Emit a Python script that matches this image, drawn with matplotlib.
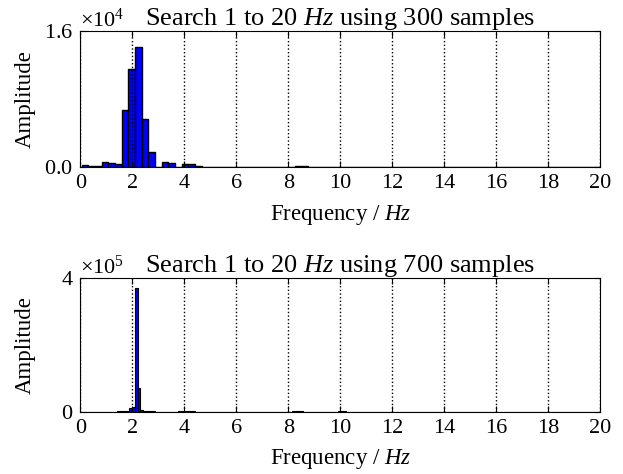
import numpy as np
import matplotlib.pyplot as plt
from matplotlib.ticker import ScalarFormatter

plt.rcParams['font.family'] = 'Liberation Serif'
plt.rcParams['mathtext.fontset'] = 'custom'
plt.rcParams['mathtext.rm'] = 'Liberation Serif'
plt.rcParams['mathtext.it'] = 'Liberation Serif:italic'

# frequency bins (left edge of first bin, bin width) and amplitudes
START_300 = 0.054
WIDTH_300 = 0.256
AMP_300 = [
    270, 200, 117, 670, 470, 350, 6690, 11540, 14090, 5670, 1830, 80, 670,
    470, 60, 350, 350, 110, 60, 50, 40, 45, 40, 30, 25, 20,
    25, 20, 20, 25, 30, 40, 100, 110, 30, 20, 20, 25, 30,
    40, 40, 25, 20, 15, 20, 15, 20, 15, 15, 20, 15, 15,
    15, 20, 15, 15, 10, 15, 15, 10, 15, 10, 15, 10, 10,
    15, 10, 10, 15, 10, 10, 15, 10, 10, 10, 15, 10, 10,
]

START_700 = 0.0
WIDTH_700 = 0.11
AMP_700 = [
    400, 300, 300, 400, 300, 400, 500, 400, 300, 400, 500, 500, 600,
    800, 1500, 2500, 3500, 10000, 15000, 372000, 70000, 5000, 3000, 2000, 1200, 800,
    600, 500, 400, 500, 400, 400, 500, 600, 700, 800, 1000, 1100, 900,
    700, 500, 400, 400, 300, 400, 400, 300, 300, 200, 300, 300, 300,
    200, 300, 300, 300, 200, 300, 200, 200, 200, 300, 200, 200, 200,
    300, 200, 300, 300, 400, 300, 400, 500, 600, 700, 800, 900, 800,
    600, 500, 400, 300, 200, 300, 300, 300, 300, 400, 500, 600, 700,
    800, 700, 500, 400, 300, 200, 200, 200, 200, 150, 200, 200, 200,
    150, 200, 150, 200, 200, 200, 150, 200, 150, 100, 150, 200, 150,
    200, 200, 300, 200, 200, 150, 200, 150, 100, 150, 100, 150, 200,
    150, 100, 150, 100, 150, 200, 200, 200, 150, 100, 150, 100, 150,
    100, 150, 100, 150, 100, 150, 200, 150, 100, 150, 100, 150, 100,
    150, 100, 150, 100, 150, 100, 150, 100, 150, 100, 150, 100, 150,
    100, 150, 100, 150, 100, 150, 100, 150, 100, 150, 100, 150, 100,
]

X_TICKS = list(range(0, 21, 2))


def draw_panel(ax, start, width, amps, n_samples, ymax, lw):
    freqs = start + width * np.arange(len(amps))
    ax.bar(freqs, amps, width=width, align='edge', color='b',
           edgecolor='k', linewidth=lw)
    ax.set_xlim(0, 20)
    ax.set_ylim(0, ymax)
    ax.set_xticks(X_TICKS)
    ax.set_yticks([0, ymax])
    fmt = ScalarFormatter(useMathText=True)
    fmt.set_powerlimits((0, 0))
    ax.yaxis.set_major_formatter(fmt)
    ax.yaxis.get_offset_text().set_fontsize(16)
    ax.set_axisbelow(False)
    ax.xaxis.grid(True, linestyle=':', color='k', linewidth=1)
    ax.tick_params(direction='in', top=True, right=True, length=4,
                   labelsize=16, pad=5)
    ax.set_xlabel('Frequency / $Hz$', fontsize=16.5, labelpad=7)
    ax.set_ylabel('Amplitude', fontsize=16.5)
    ax.yaxis.set_label_coords(-0.085, 0.5)
    ax.set_title(f'Search 1 to 20 $Hz$ using {n_samples} samples',
                 fontsize=19, pad=4.5)


def main():
    fig = plt.figure(figsize=(6.23, 4.74), dpi=100, facecolor='white')
    ax1 = fig.add_axes([0.1289, 0.6470, 0.8347, 0.2876])
    ax2 = fig.add_axes([0.1289, 0.1314, 0.8347, 0.2814])
    draw_panel(ax1, START_300, WIDTH_300, AMP_300, 300, 16000, 1.0)
    draw_panel(ax2, START_700, WIDTH_700, AMP_700, 700, 400000, 0.8)
    fig.savefig('out.png', dpi=100, facecolor='white')


if __name__ == '__main__':
    main()
